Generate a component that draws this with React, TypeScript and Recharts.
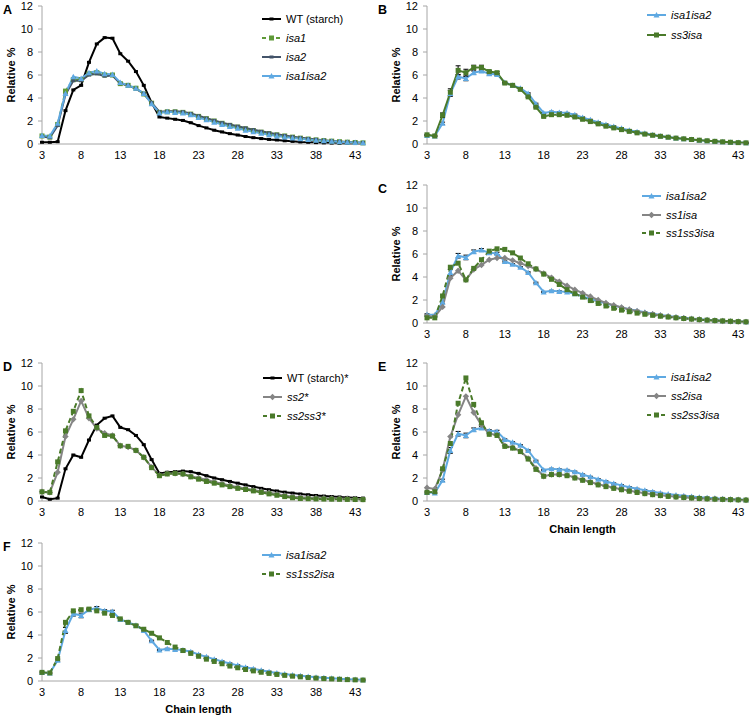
import { LineChart, Line, XAxis, YAxis, Legend, ErrorBar } from 'recharts';

const chainLength = [3, 4, 5, 6, 7, 8, 9, 10, 11, 12, 13, 14, 15, 16, 17, 18, 19, 20, 21, 22, 23, 24, 25, 26, 27, 28, 29, 30, 31, 32, 33, 34, 35, 36, 37, 38, 39, 40, 41, 42, 43, 44];
const xTicks = [3, 8, 13, 18, 23, 28, 33, 38, 43];
const yTicks = [0, 2, 4, 6, 8, 10, 12];

// relative % per chain length (DP 3..44)
const wtStarch = [0.15, 0.15, 0.2, 2.9, 4.7, 5.1, 7.1, 8.7, 9.25, 9.2, 7.85, 7.2, 6.3, 5.1, 3.6, 2.35, 2.25, 2.15, 2.05, 1.85, 1.6, 1.4, 1.2, 1.05, 0.9, 0.78, 0.65, 0.55, 0.47, 0.4, 0.35, 0.28, 0.23, 0.18, 0.15, 0.12, 0.1, 0.08, 0.06, 0.05, 0.04, 0.04];
const isa1 = [0.7, 0.6, 1.7, 4.6, 5.6, 5.6, 6.1, 6.2, 6.0, 6.0, 5.25, 5.1, 4.85, 4.35, 3.55, 2.75, 2.8, 2.8, 2.75, 2.6, 2.4, 2.2, 2.0, 1.8, 1.62, 1.47, 1.32, 1.17, 1.03, 0.9, 0.8, 0.7, 0.6, 0.51, 0.43, 0.36, 0.3, 0.25, 0.2, 0.16, 0.13, 0.1];
const isa2 = [0.65, 0.55, 1.6, 4.3, 5.5, 5.5, 6.0, 6.1, 5.9, 5.95, 5.25, 5.1, 4.8, 4.4, 3.6, 2.8, 2.85, 2.85, 2.8, 2.65, 2.45, 2.25, 2.05, 1.85, 1.7, 1.55, 1.4, 1.25, 1.1, 0.97, 0.85, 0.74, 0.64, 0.55, 0.47, 0.4, 0.33, 0.27, 0.22, 0.18, 0.14, 0.11];
const isa1isa2 = [0.75, 0.7, 1.8, 4.4, 5.85, 5.7, 6.2, 6.35, 6.1, 6.05, 5.35, 5.1, 4.85, 4.4, 3.5, 2.7, 2.8, 2.75, 2.7, 2.55, 2.3, 2.1, 1.9, 1.7, 1.52, 1.36, 1.2, 1.06, 0.93, 0.81, 0.7, 0.6, 0.52, 0.45, 0.39, 0.33, 0.28, 0.23, 0.19, 0.15, 0.12, 0.1];
const isa1isa2Err = [0.05, 0.05, 0.1, 0.25, 0.2, 0.2, 0.15, 0.12, 0.1, 0.1, 0.05, 0.05, 0.05, 0.05, 0.05, 0.05, 0.05, 0.05, 0.05, 0.05, 0.05, 0.05, 0.05, 0.05, 0.05, 0.05, 0.05, 0.05, 0.05, 0.05, 0.05, 0.05, 0.05, 0.05, 0.05, 0.05, 0.05, 0.05, 0.05, 0.05, 0.05, 0.05];
const ss3isa = [0.8, 0.7, 2.5, 4.5, 6.4, 6.2, 6.65, 6.65, 6.3, 6.2, 5.3, 5.1, 4.75, 4.1, 3.2, 2.4, 2.55, 2.55, 2.5, 2.35, 2.15, 1.95, 1.75, 1.55, 1.4, 1.25, 1.1, 0.97, 0.86, 0.76, 0.67, 0.59, 0.51, 0.45, 0.39, 0.33, 0.28, 0.23, 0.19, 0.15, 0.12, 0.1];
const ss3isaErr = [0.05, 0.05, 0.2, 0.3, 0.4, 0.3, 0.2, 0.2, 0.1, 0.1, 0.05, 0.05, 0.05, 0.05, 0.05, 0.05, 0.05, 0.05, 0.05, 0.05, 0.05, 0.05, 0.05, 0.05, 0.05, 0.05, 0.05, 0.05, 0.05, 0.05, 0.05, 0.05, 0.05, 0.05, 0.05, 0.05, 0.05, 0.05, 0.05, 0.05, 0.05, 0.05];
const ss1isa = [0.6, 0.55, 1.4, 3.9, 4.55, 3.75, 4.65, 5.05, 5.5, 5.65, 5.65, 5.45, 5.2, 4.95, 4.7, 4.3, 3.95, 3.6, 3.25, 2.9, 2.6, 2.3, 2.0, 1.75, 1.55, 1.36, 1.18, 1.02, 0.88, 0.76, 0.65, 0.56, 0.48, 0.41, 0.35, 0.3, 0.25, 0.21, 0.17, 0.14, 0.12, 0.1];
const ss1ss3isa = [0.45, 0.45, 2.35, 4.85, 5.2, 3.75, 4.75, 5.5, 6.25, 6.45, 6.4, 6.1, 5.65, 5.15, 4.7, 4.25, 3.8, 3.35, 2.9, 2.55, 2.25, 1.95, 1.7, 1.48, 1.28, 1.12, 0.98, 0.86, 0.76, 0.67, 0.59, 0.52, 0.45, 0.39, 0.34, 0.29, 0.25, 0.21, 0.18, 0.15, 0.12, 0.1];
const wtStarchStar = [0.35, 0.15, 0.25, 2.8, 4.0, 3.8, 5.3, 6.6, 7.2, 7.4, 6.4, 6.2, 5.7, 4.9, 3.6, 2.4, 2.5, 2.55, 2.6, 2.55, 2.4, 2.2, 2.0, 1.85, 1.7, 1.55, 1.4, 1.25, 1.1, 0.98, 0.87, 0.77, 0.69, 0.61, 0.54, 0.48, 0.43, 0.39, 0.35, 0.31, 0.28, 0.25];
const ss2Star = [0.8, 0.75, 2.5, 5.6, 7.1, 8.7, 7.2, 6.3, 5.9, 5.7, 4.8, 4.7, 4.4, 3.8, 2.95, 2.25, 2.4, 2.4, 2.35, 2.15, 2.0, 1.85, 1.65, 1.5, 1.35, 1.2, 1.08, 0.95, 0.84, 0.72, 0.6, 0.48, 0.38, 0.32, 0.29, 0.27, 0.25, 0.23, 0.21, 0.19, 0.17, 0.15];
const ss2ss3Star = [0.8, 0.75, 3.4, 6.1, 7.8, 9.6, 7.4, 6.4, 5.7, 5.65, 4.8, 4.75, 4.4, 3.8, 2.9, 2.2, 2.35, 2.4, 2.35, 2.1, 1.9, 1.7, 1.55, 1.4, 1.25, 1.1, 1.0, 0.88, 0.75, 0.62, 0.5, 0.38, 0.28, 0.22, 0.2, 0.18, 0.17, 0.16, 0.15, 0.14, 0.13, 0.12];
const ss2isa = [1.15, 1.05, 2.7, 5.6, 7.5, 9.1, 7.7, 6.6, 5.85, 5.75, 4.8, 4.65, 4.35, 3.7, 2.85, 2.15, 2.3, 2.3, 2.25, 2.05, 1.85, 1.65, 1.45, 1.3, 1.15, 1.02, 0.9, 0.78, 0.68, 0.58, 0.5, 0.43, 0.37, 0.32, 0.27, 0.23, 0.2, 0.17, 0.14, 0.12, 0.1, 0.08];
const ss2ss3isa = [0.75, 0.8, 2.8, 5.0, 8.5, 10.7, 8.4, 6.8, 5.8, 5.7, 4.75, 4.6, 4.3, 3.65, 2.75, 2.15, 2.3, 2.3, 2.2, 2.0, 1.8, 1.6, 1.4, 1.25, 1.1, 0.98, 0.85, 0.74, 0.64, 0.55, 0.47, 0.4, 0.35, 0.3, 0.26, 0.22, 0.19, 0.16, 0.14, 0.12, 0.1, 0.08];
const ss1ss2isa = [0.75, 0.7, 1.95, 5.1, 6.1, 6.2, 6.25, 6.1, 5.9, 5.7, 5.4, 5.1, 4.8, 4.5, 4.15, 3.75, 3.35, 2.95, 2.65, 2.4, 2.15, 1.9, 1.7, 1.5, 1.3, 1.15, 1.0, 0.88, 0.76, 0.66, 0.57, 0.49, 0.42, 0.36, 0.3, 0.25, 0.21, 0.18, 0.15, 0.12, 0.1, 0.08];

const FONT = '"Liberation Sans", Arial, sans-serif';
const AXIS = '#a6a6a6';
const BLACK = '#000000';
const GREEN = '#4a7a2a';
const LIGHTGREEN = '#5f9a38';
const SLATE = '#44546a';
const BLUE = '#5fa9e2';
const GRAY = '#858585';

type Shape = 'dash' | 'square' | 'triangle' | 'diamond';
type Series = {
  key: string;
  name: string;
  values: number[];
  color: string;
  shape: Shape;
  dashed?: boolean;
  italic?: boolean;
  err?: number[];
};

function Mark({ cx, cy, shape, color }: { cx: number; cy: number; shape: Shape; color: string }) {
  if (cx == null || cy == null) return null;
  if (shape === 'square') return <rect x={cx - 2.5} y={cy - 2.5} width={5} height={5} fill={color} />;
  if (shape === 'triangle')
    return <polygon points={`${cx},${cy - 3} ${cx + 3},${cy + 2.5} ${cx - 3},${cy + 2.5}`} fill={color} />;
  if (shape === 'diamond')
    return <polygon points={`${cx},${cy - 3.2} ${cx + 3.2},${cy} ${cx},${cy + 3.2} ${cx - 3.2},${cy}`} fill={color} />;
  return <rect x={cx - 2} y={cy - 1.5} width={4} height={3} fill={color} />;
}

function LegendBox({ items, rowH }: { items: Series[]; rowH: number }) {
  return (
    <div style={{ fontFamily: FONT, fontSize: 11, color: '#000' }}>
      {items.map((s) => (
        <div key={s.key} style={{ display: 'flex', alignItems: 'center', height: rowH, whiteSpace: 'nowrap' }}>
          <svg width={19} height={8} style={{ marginRight: 5 }}>
            <line x1={0} y1={4} x2={19} y2={4} stroke={s.color} strokeWidth={2} strokeDasharray={s.dashed ? '4 3' : undefined} />
            <Mark cx={9.5} cy={4} shape={s.shape} color={s.color} />
          </svg>
          <span style={{ fontStyle: s.italic ? 'italic' : 'normal' }}>{s.name}</span>
        </div>
      ))}
    </div>
  );
}

type PanelProps = {
  letter: string;
  x: number;
  y: number;
  w: number;
  series: Series[];
  legend: { x: number; y: number; rowH: number };
  xTitle?: boolean;
};

const PLOT_H = 138;

function Panel({ letter, x, y, w, series, legend, xTitle }: PanelProps) {
  const left = x - 42;
  const top = y - 6;
  const axisH = xTitle ? 36 : 22;
  const width = 42 + w + 4;
  const height = 6 + PLOT_H + axisH;
  const data = chainLength.map((cl, i) => {
    const row: Record<string, number> = { cl };
    series.forEach((s) => {
      row[s.key] = s.values[i];
      if (s.err) row[s.key + 'Err'] = s.err[i];
    });
    return row;
  });

  return (
    <>
      <div style={{ position: 'absolute', left: x < 200 ? 3 : 378, top: y - 2.5, fontFamily: FONT, fontWeight: 'bold', fontSize: 12.5, lineHeight: '13px' }}>
        {letter}
      </div>
      <div style={{ position: 'absolute', left, top }}>
        <LineChart width={width} height={height} data={data} margin={{ top: 6, right: 4, bottom: 0, left: 0 }} style={{ fontFamily: FONT }}>
          <XAxis
            dataKey="cl"
            type="number"
            domain={[3, 44]}
            ticks={xTicks}
            interval={0}
            height={axisH}
            tickLine={false}
            tickSize={0}
            tickMargin={7}
            axisLine={{ stroke: AXIS }}
            tick={{ fontSize: 11, fill: '#000', fontFamily: FONT }}
            label={
              xTitle
                ? {
                    content: (p: any) => {
                      const vb = p.viewBox;
                      return (
                        <text x={vb.x + vb.width / 2 - 4} y={vb.y + 28} textAnchor="middle" dominantBaseline="central" fontSize={11} fontWeight="bold" fontFamily={FONT} fill="#000">
                          Chain length
                        </text>
                      );
                    },
                  }
                : undefined
            }
          />
          <XAxis xAxisId="top" orientation="top" dataKey="cl" type="number" domain={[3, 44]} height={0} tick={false} tickLine={false} axisLine={{ stroke: AXIS }} />
          <YAxis
            domain={[0, 12]}
            ticks={yTicks}
            width={42}
            tickSize={4}
            tickMargin={5}
            tickLine={{ stroke: AXIS }}
            axisLine={{ stroke: AXIS }}
            tick={{ fontSize: 11, fill: '#000', fontFamily: FONT }}
            label={{
              content: (p: any) => {
                const vb = p.viewBox;
                const lx = vb.x + 11;
                const ly = vb.y + vb.height / 2;
                return (
                  <text x={lx} y={ly} transform={`rotate(-90, ${lx}, ${ly})`} textAnchor="middle" dominantBaseline="central" fontSize={11} fontWeight="bold" fontFamily={FONT} fill="#000">
                    Relative %
                  </text>
                );
              },
            }}
          />
          <YAxis yAxisId="right" orientation="right" domain={[0, 12]} width={0} tick={false} tickLine={false} axisLine={{ stroke: AXIS }} />
          <Legend
            layout="vertical"
            align="center"
            verticalAlign="middle"
            wrapperStyle={{ left: legend.x - left, top: legend.y - top, width: 'auto' }}
            content={() => <LegendBox items={series} rowH={legend.rowH} />}
          />
          {series.map((s) => (
            <Line
              key={s.key}
              dataKey={s.key}
              name={s.name}
              stroke={s.color}
              strokeWidth={2}
              strokeDasharray={s.dashed ? '5 3' : undefined}
              isAnimationActive={false}
              dot={(p: any) => <Mark key={`${s.key}-${p.index}`} cx={p.cx} cy={p.cy} shape={s.shape} color={s.color} />}
              activeDot={false}
            >
              {s.err ? <ErrorBar dataKey={s.key + 'Err'} width={2.5} strokeWidth={1} stroke="#000" direction="y" /> : null}
            </Line>
          ))}
        </LineChart>
      </div>
    </>
  );
}

const blueSeries: Series = { key: 'isa1isa2', name: 'isa1isa2', values: isa1isa2, color: BLUE, shape: 'triangle', italic: true, err: isa1isa2Err };

export default function App() {
  return (
    <div style={{ position: 'absolute', left: 0, top: 0, width: 750, height: 718, background: '#fff' }}>
      <Panel
        letter="A"
        x={42}
        y={6}
        w={321}
        legend={{ x: 262, y: 9, rowH: 19 }}
        series={[
          { key: 'wt', name: 'WT (starch)', values: wtStarch, color: BLACK, shape: 'dash' },
          { key: 'isa1', name: 'isa1', values: isa1, color: LIGHTGREEN, shape: 'square', dashed: true, italic: true },
          { key: 'isa2', name: 'isa2', values: isa2, color: SLATE, shape: 'dash', italic: true },
          { ...blueSeries, err: undefined },
        ]}
      />
      <Panel
        letter="B"
        x={427}
        y={6}
        w={319}
        legend={{ x: 647, y: 5, rowH: 20 }}
        series={[blueSeries, { key: 'ss3isa', name: 'ss3isa', values: ss3isa, color: GREEN, shape: 'square', italic: true, err: ss3isaErr }]}
      />
      <Panel
        letter="C"
        x={427}
        y={185}
        w={319}
        legend={{ x: 642, y: 187, rowH: 18.5 }}
        series={[
          blueSeries,
          { key: 'ss1isa', name: 'ss1isa', values: ss1isa, color: GRAY, shape: 'diamond', italic: true },
          { key: 'ss1ss3isa', name: 'ss1ss3isa', values: ss1ss3isa, color: GREEN, shape: 'square', dashed: true, italic: true },
        ]}
      />
      <Panel
        letter="D"
        x={42}
        y={363}
        w={321}
        legend={{ x: 263, y: 368, rowH: 19 }}
        series={[
          { key: 'wt', name: 'WT (starch)*', values: wtStarchStar, color: BLACK, shape: 'dash' },
          { key: 'ss2', name: 'ss2*', values: ss2Star, color: GRAY, shape: 'diamond', italic: true },
          { key: 'ss2ss3', name: 'ss2ss3*', values: ss2ss3Star, color: GREEN, shape: 'square', dashed: true, italic: true },
        ]}
      />
      <Panel
        letter="E"
        x={427}
        y={363}
        w={319}
        xTitle
        legend={{ x: 647, y: 367, rowH: 19 }}
        series={[
          blueSeries,
          { key: 'ss2isa', name: 'ss2isa', values: ss2isa, color: GRAY, shape: 'diamond', italic: true },
          { key: 'ss2ss3isa', name: 'ss2ss3isa', values: ss2ss3isa, color: GREEN, shape: 'square', dashed: true, italic: true },
        ]}
      />
      <Panel
        letter="F"
        x={42}
        y={543}
        w={321}
        xTitle
        legend={{ x: 262, y: 545, rowH: 19 }}
        series={[
          blueSeries,
          { key: 'ss1ss2isa', name: 'ss1ss2isa', values: ss1ss2isa, color: GREEN, shape: 'square', dashed: true, italic: true },
        ]}
      />
    </div>
  );
}
